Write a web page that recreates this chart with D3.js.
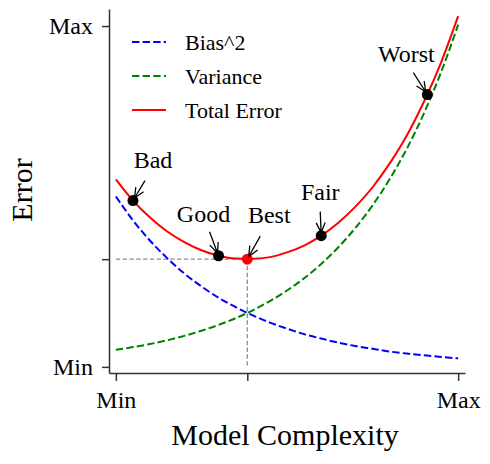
<!DOCTYPE html>
<html>
<head>
<meta charset="utf-8">
<script src="https://cdn.jsdelivr.net/npm/d3@7"></script>
<style>
  body { margin: 0; background: #fff; }
</style>
</head>
<body>
<div id="frame"></div>
<script>
// model complexity (Min = 0, Max = 10)
let complexity = [0, 0.5, 1, 1.5, 2, 2.5, 3, 3.5, 4, 4.5, 5, 5.5, 6, 6.5, 7, 7.5, 8, 8.5, 9, 9.5, 10];

// error curves
let bias2 = [5.0, 4.30, 3.70, 3.19, 2.74, 2.36, 2.03, 1.75, 1.51, 1.30, 1.12, 0.96, 0.83, 0.71, 0.61, 0.53, 0.45, 0.39, 0.34, 0.29, 0.25];
let variance = [0.50, 0.58, 0.67, 0.78, 0.91, 1.06, 1.23, 1.43, 1.66, 1.93, 2.24, 2.60, 3.02, 3.51, 4.08, 4.74, 5.51, 6.40, 7.44, 8.64, 10.04];
let totalError = [5.50, 4.88, 4.38, 3.97, 3.66, 3.42, 3.26, 3.18, 3.17, 3.22, 3.36, 3.56, 3.85, 4.23, 4.70, 5.27, 5.97, 6.79, 7.78, 8.93, 10.29];

// highlighted points
let pointNames = ["Bad", "Good", "Best", "Fair", "Worst"];
let pointX = [0.5, 3, 3.84, 6, 9.1];
let pointY = [4.88, 3.26, 3.16, 3.85, 7.99];

// ticks
let xTickValues = [0, 3.84, 10], xTickLabels = ["Min", "", "Max"];
let yTickValues = [0, 3.16, 10], yTickLabels = ["Min", "", "Max"];

let seriesNames = ["Bias^2", "Variance", "Total Error"];

let serif = '"Liberation Serif", "Times New Roman", serif';

//Dimensions
let margin = { top: 9, right: 25, bottom: 91, left: 109 },
    width = 490 - margin.left - margin.right,
    height = 464 - margin.top - margin.bottom;

let svg = d3.select('#frame')
    .append('svg')
    .attr('width', width + margin.left + margin.right)
    .attr('height', height + margin.top + margin.bottom)
    .style('font-family', serif)
    .append('g')
    .attr('transform', 'translate(' + margin.left + ',' + margin.top + ')');

let x = d3.scaleLinear().domain([-0.2, 10.2]).range([0, width]);
let y = d3.scaleLinear().domain([-0.18, 10.5]).range([height, 0]);

// styles per series
let seriesStyle = [
    { color: '#0000ff', dash: '7.4,3.2' },
    { color: '#008000', dash: '7.4,3.2' },
    { color: '#ff0000', dash: null }
];
let seriesData = [bias2, variance, totalError];

let best = pointNames.indexOf('Best');

// reference lines at the optimum
svg.append('line')
    .attr('x1', x(0)).attr('x2', x(pointX[best]))
    .attr('y1', y(pointY[best])).attr('y2', y(pointY[best]))
    .style('stroke', '#8c8c8c').style('stroke-width', 1.3).style('stroke-dasharray', '4.4,2.4');
svg.append('line')
    .attr('x1', x(pointX[best])).attr('x2', x(pointX[best]))
    .attr('y1', y(pointY[best])).attr('y2', y(0))
    .style('stroke', '#8c8c8c').style('stroke-width', 1.3).style('stroke-dasharray', '4.4,2.4');

// curves
let line = d3.line()
    .x((d, i) => x(complexity[i]))
    .y(d => y(d))
    .curve(d3.curveMonotoneX);

svg.selectAll('path.curve')
    .data(seriesData)
    .enter()
    .append('path')
    .attr('class', 'curve')
    .attr('d', d => line(d))
    .style('fill', 'none')
    .style('stroke', (d, i) => seriesStyle[i].color)
    .style('stroke-width', 2)
    .style('stroke-dasharray', (d, i) => seriesStyle[i].dash);

// axes
let xAxis = svg.append('g')
    .attr('transform', 'translate(0,' + height + ')')
    .call(d3.axisBottom(x)
        .tickValues(xTickValues)
        .tickFormat((d, i) => xTickLabels[i])
        .tickSize(8).tickSizeOuter(0).tickPadding(10));

let yAxis = svg.append('g')
    .call(d3.axisLeft(y)
        .tickValues(yTickValues)
        .tickFormat((d, i) => yTickLabels[i])
        .tickSize(7).tickSizeOuter(0).tickPadding(9));

[xAxis, yAxis].forEach(a => {
    a.attr('font-family', null).attr('font-size', null);
    a.selectAll('path, line').style('stroke', '#333').style('stroke-width', 1.5);
    a.selectAll('text').style('font-size', '24px').style('font-family', serif).style('fill', '#000');
});

// axis titles
svg.append('text')
    .attr('x', width / 2 - 2)
    .attr('y', height + 72)
    .style('text-anchor', 'middle')
    .style('font-family', serif)
    .style('font-size', '30px')
    .text('Model Complexity');

svg.append('text')
    .attr('transform', 'translate(' + (32 - margin.left) + ',' + (height / 2 - 1) + ') rotate(-90)')
    .style('text-anchor', 'middle')
    .style('font-family', serif)
    .style('font-size', '30px')
    .text('Error');

// annotation layout: label centre and arrow tail, relative to the point (px)
let labelOffset = [[20, -33], [-15, -34], [22, -36], [-1, -36], [-21, -33]];
let tailOffset = [[12, -20], [-9, -24], [13, -23], [-1, -24], [-14, -22]];

function arrowPath(sx, sy, tx, ty) {
    let dx = tx - sx, dy = ty - sy, len = Math.sqrt(dx * dx + dy * dy);
    let ux = dx / len, uy = dy / len;
    // pull the tip back to the marker edge
    tx -= ux * 3; ty -= uy * 3;
    let hl = 10, hw = 4.5;
    let bx = tx - ux * hl, by = ty - uy * hl;
    return 'M' + sx + ',' + sy + 'L' + tx + ',' + ty +
        'M' + (bx - uy * hw) + ',' + (by + ux * hw) + 'L' + tx + ',' + ty +
        'L' + (bx + uy * hw) + ',' + (by - ux * hw);
}

let ann = svg.append('g');

ann.selectAll('circle')
    .data(pointNames)
    .enter()
    .append('circle')
    .attr('cx', (d, i) => x(pointX[i]))
    .attr('cy', (d, i) => y(pointY[i]))
    .attr('r', 5.5)
    .style('fill', d => d === 'Best' ? '#ff0000' : '#000');

ann.selectAll('path')
    .data(pointNames)
    .enter()
    .append('path')
    .attr('d', (d, i) => {
        let px = x(pointX[i]), py = y(pointY[i]);
        return arrowPath(px + tailOffset[i][0], py + tailOffset[i][1], px, py);
    })
    .style('fill', 'none')
    .style('stroke', '#000')
    .style('stroke-width', 1.3);

ann.selectAll('text')
    .data(pointNames)
    .enter()
    .append('text')
    .attr('x', (d, i) => x(pointX[i]) + labelOffset[i][0])
    .attr('y', (d, i) => y(pointY[i]) + labelOffset[i][1])
    .style('text-anchor', 'middle')
    .style('font-family', serif)
    .style('font-size', '24px')
    .text(d => d);

// legend
let legend = svg.append('g')
    .attr('transform', 'translate(' + (132 - margin.left) + ',' + (42 - margin.top) + ')');

let rows = legend.selectAll('g')
    .data(seriesNames)
    .enter()
    .append('g')
    .attr('transform', (d, i) => 'translate(0,' + i * 34 + ')');

rows.append('line')
    .attr('x1', 0).attr('x2', 34)
    .attr('y1', 0).attr('y2', 0)
    .style('stroke', (d, i) => seriesStyle[i].color)
    .style('stroke-width', 2)
    .style('stroke-dasharray', (d, i) => seriesStyle[i].dash);

rows.append('text')
    .attr('x', 53)
    .attr('y', 0)
    .attr('dy', '0.35em')
    .style('font-family', serif)
    .style('font-size', '22px')
    .text(d => d);
</script>
</body>
</html>
